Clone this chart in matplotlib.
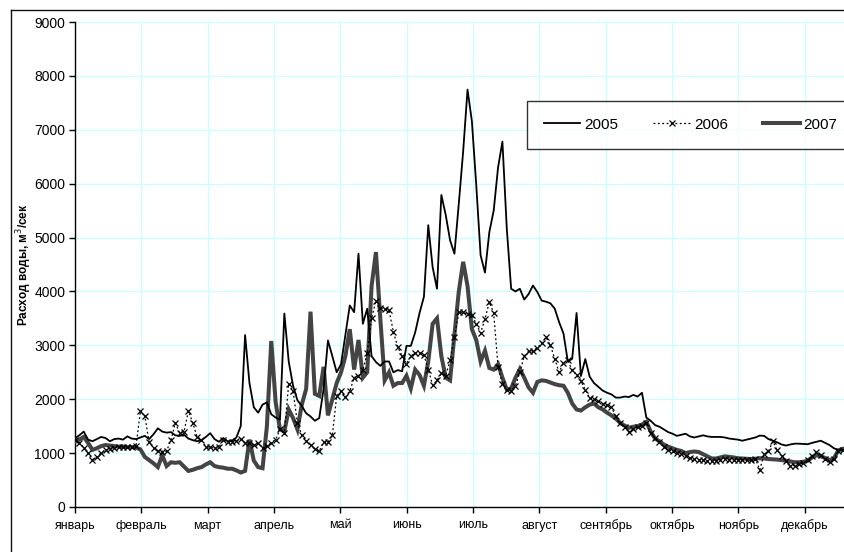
import numpy as np
import matplotlib
matplotlib.use("Agg")
import matplotlib.pyplot as plt
from matplotlib.lines import Line2D

plt.rcParams['font.family'] = ['Liberation Sans', 'DejaVu Sans']

months = ["январь", "февраль", "март", "апрель", "май", "июнь", "июль",
          "август", "сентябрь", "октябрь", "ноябрь", "декабрь"]
days = np.arange(0, 356, 2)

q2005 = [1280,1330,1400,1250,1220,1260,1300,1280,1220,1260,
         1270,1250,1310,1270,1260,1290,1320,1260,1350,1460,
         1400,1380,1390,1330,1320,1340,1270,1240,1220,1240,
         1300,1370,1260,1210,1280,1220,1230,1290,1500,3190,
         2300,1850,1750,1900,1940,1720,1660,1620,3590,2700,
         2250,1980,1875,1740,1680,1600,1650,2190,3090,2800,
         2500,2650,3200,3740,3615,4700,3400,3680,2800,2690,
         2620,2700,2700,2500,2540,2520,2990,2990,3240,3600,
         3900,5230,4450,4050,5790,5420,4950,4700,5630,6600,
         7745,7160,5975,4670,4350,5100,5500,6300,6780,5170,
         4050,4000,4050,3850,3950,4110,3990,3830,3810,3780,
         3680,3430,3220,2700,2750,3600,2430,2745,2420,2300,
         2230,2160,2120,2090,2030,2030,2050,2040,2080,2050,
         2120,1660,1600,1520,1490,1440,1390,1360,1320,1340,
         1360,1310,1290,1310,1330,1310,1300,1300,1300,1290,
         1270,1260,1250,1230,1250,1270,1290,1325,1320,1260,
         1230,1200,1160,1140,1160,1175,1175,1170,1165,1190,
         1210,1230,1190,1150,1090,1060,1060,1060]

q2006 = [1240,1190,1100,1000,880,920,1010,1060,1080,1100,
         1110,1110,1110,1120,1140,1780,1690,1200,1100,1040,
         1020,1040,1240,1560,1370,1400,1780,1560,1300,1240,
         1120,1110,1090,1110,1250,1200,1210,1230,1260,1190,
         1180,1150,1190,1090,1140,1190,1250,1440,1370,2290,
         2150,1560,1330,1230,1150,1070,1040,1200,1200,1330,
         2060,2150,2040,2150,2400,2435,2540,2850,3500,3830,
         3700,3680,3650,3250,2970,2800,2660,2800,2860,2860,
         2820,2550,2260,2350,2480,2440,2720,3150,3620,3610,
         3580,3560,3400,3230,3490,3800,3600,2600,2290,2170,
         2155,2250,2500,2800,2890,2900,2950,3050,3150,3000,
         2750,2500,2680,2720,2540,2450,2330,2180,2020,2000,
         1970,1920,1890,1850,1680,1560,1480,1400,1450,1480,
         1510,1560,1370,1280,1200,1120,1065,1035,1010,990,
         950,910,890,878,865,855,848,860,875,900,
         880,875,875,875,875,880,900,690,980,1030,
         1220,1050,950,860,760,770,790,810,870,950,
         1020,960,890,830,900,1030,1050,1060]

q2007 = [1210,1250,1300,1190,1060,1090,1130,1150,1140,1130,
         1120,1120,1110,1110,1100,1070,930,870,810,740,
         960,760,830,820,830,750,670,690,720,740,
         790,830,760,740,730,710,710,680,640,670,
         1250,860,740,720,1500,3080,1950,1440,1400,1810,
         1650,1440,1900,2190,3625,2100,2060,2600,1700,2000,
         2300,2500,2800,3300,2550,3100,2400,2500,4100,4730,
         3500,2350,2500,2250,2300,2300,2435,2200,2550,2450,
         2250,2700,3400,3500,2800,2400,2350,3200,4000,4550,
         4100,3300,3100,2700,2900,2580,2550,2650,2400,2180,
         2200,2400,2560,2400,2220,2120,2320,2350,2340,2310,
         2280,2260,2250,2120,1920,1810,1790,1850,1900,1920,
         1850,1810,1750,1700,1640,1560,1510,1470,1490,1500,
         1530,1580,1400,1270,1220,1160,1120,1090,1060,1040,
         1000,1020,1030,1020,980,940,900,900,920,940,
         930,920,905,900,895,890,895,905,900,890,
         885,880,870,860,845,830,830,840,860,920,
         960,940,910,870,900,1050,1080,1090]

W, H = 845, 552
fig = plt.figure(figsize=(W / 100, H / 100), dpi=100)
fig.patch.set_facecolor('white')

ax = fig.add_axes([75 / W, (H - 507) / H, 770 / W, 485 / H])

grid_c = '#c8ffff'
ax.plot(days, q2007, color='#444444', lw=2.9, label='2007', zorder=3,
        solid_joinstyle='miter')
ax.plot(days, q2005, color='black', lw=1.3, label='2005', zorder=4)
ax.plot(days, q2006, color='black', lw=0.9, ls=(0, (1.5, 2)), marker='x',
        markersize=4.8, markeredgewidth=0.9, label='2006', zorder=5)

month_pos = np.arange(12) * 365 / 12
ax.set_xlim(0, 353.1)
ax.set_ylim(0, 9000)
ax.set_xticks(month_pos)
ax.set_xticklabels(months, fontsize=9)
ax.set_yticks(np.arange(0, 9001, 1000))
ax.set_yticklabels([str(v) for v in range(0, 9001, 1000)], fontsize=10)
ax.tick_params(axis='both', direction='out', length=4, width=1, color='black')
ax.tick_params(axis='x', pad=5)
ax.tick_params(axis='y', pad=3)
ax.grid(True, color=grid_c, lw=0.9)
ax.set_axisbelow(True)
for s in ['top', 'right']:
    ax.spines[s].set_visible(False)
ax.spines['left'].set_linewidth(1.0)
ax.spines['bottom'].set_linewidth(1.0)

ax.set_ylabel('Расход воды, м$^3$/сек', fontsize=8.5, fontweight='bold')
ax.yaxis.set_label_coords(-0.053, 0.5)

h = {l.get_label(): l for l in ax.get_lines()}
leg = fig.legend([h['2005'], h['2006'], h['2007']], ['2005', '2006', '2007'],
                 loc='upper left', bbox_to_anchor=(527 / W, 1 - 101 / H),
                 bbox_transform=fig.transFigure, ncol=3, fontsize=11,
                 frameon=True, fancybox=False, shadow=False, borderpad=1.1,
                 handlelength=2.4, handletextpad=0.25, columnspacing=2.3,
                 borderaxespad=0)
leg.get_frame().set_edgecolor('black')
leg.get_frame().set_linewidth(1.0)

# outer chart-area frame (only left and top edges are inside the picture)
fig.add_artist(Line2D([11 / W, 11 / W], [1 - 10 / H, 0], color='#111111',
                      lw=1.0, transform=fig.transFigure))
fig.add_artist(Line2D([11 / W, 1], [1 - 10 / H, 1 - 10 / H], color='#111111',
                      lw=1.0, transform=fig.transFigure))

fig.savefig('out.png', dpi=100)
